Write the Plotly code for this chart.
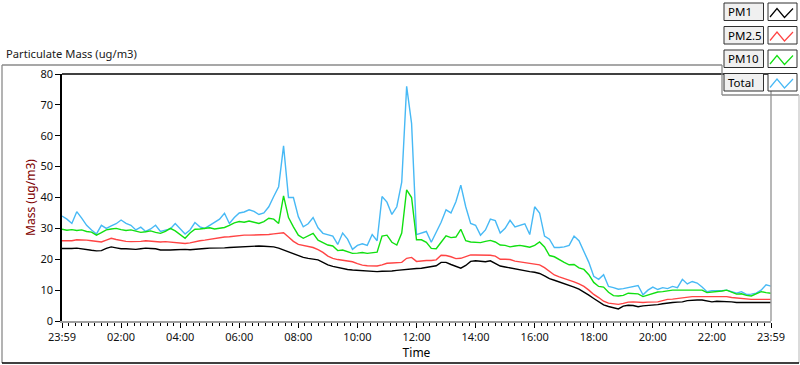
import numpy as np
import plotly.graph_objects as go

# ---- data: 10-minute samples from 23:59 to 23:59 (hours since start) ----
hours = np.arange(145) / 6.0

pm1 = [
    23.5, 23.4, 23.5, 23.6, 23.3, 23.0, 22.9, 22.7, 22.8, 23.5, 24.0, 23.7,
    23.4, 23.4, 23.2, 23.2, 23.4, 23.6, 23.5, 23.4, 23.0, 22.9, 23.0, 23.1,
    23.2, 23.2, 23.1, 23.3, 23.4, 23.5, 23.6, 23.6, 23.5, 23.7, 23.8, 23.9,
    24.0, 24.2, 24.2, 24.3, 24.3, 24.2, 24.1, 24.0, 23.6, 23.0, 22.3, 21.6,
    21.0, 20.6, 20.3, 20.1, 19.8, 19.0, 18.2, 17.7, 17.3, 17.0, 16.7, 16.5,
    16.4, 16.2, 16.0, 16.0, 16.0, 16.1, 16.1, 16.2, 16.4, 16.6, 16.7, 16.8,
    17.0, 17.1, 17.3, 17.5, 17.9, 19.0, 19.0, 18.3, 17.6, 17.1, 18.0, 19.3,
    19.5, 19.3, 19.2, 19.5, 18.6, 17.8, 17.5, 17.2, 16.8, 16.4, 16.2, 16.0,
    15.8, 15.4, 14.6, 13.7, 13.2, 12.7, 12.1, 11.6, 11.0, 10.3, 9.4, 8.4,
    7.3, 6.2, 5.2, 4.7, 4.3, 3.9, 4.8, 5.1, 5.0, 4.6, 4.9, 5.0,
    5.1, 5.3, 5.6, 5.9, 6.0, 6.1, 6.2, 6.6, 6.8, 6.8, 6.8, 6.4,
    6.2, 6.4, 6.4, 6.3, 6.2, 6.0, 6.0, 6.0, 6.0, 6.0, 6.0, 6.0,
    6.0,
]

pm25 = [
    26.0, 25.9, 26.0, 26.3, 26.3, 26.2, 26.0, 25.7, 25.6, 26.2, 26.8, 26.4,
    26.0, 25.8, 25.7, 25.7, 25.8, 26.0, 25.8, 25.7, 25.6, 25.7, 25.6, 25.4,
    25.2, 25.1, 25.3, 25.7, 26.0, 26.2, 26.5, 26.8, 27.0, 27.2, 27.3, 27.5,
    27.6, 27.8, 27.8, 27.8, 27.9, 27.9, 28.0, 28.2, 28.4, 28.6, 27.2, 25.8,
    24.8, 24.4, 24.2, 23.8, 23.1, 22.2, 21.0, 20.3, 19.9, 19.7, 19.5, 19.2,
    18.6, 18.1, 17.9, 17.8, 17.8, 18.2, 18.7, 18.8, 18.9, 19.0, 20.3, 20.6,
    19.3, 19.5, 19.6, 19.6, 19.8, 21.3, 21.2, 20.8, 20.2, 20.3, 20.8, 21.4,
    21.4, 21.4, 21.4, 21.3, 21.0, 20.0, 20.0, 19.9, 19.4, 19.2, 19.0, 18.7,
    18.5, 18.2, 17.3, 16.0, 14.9, 14.3, 13.8, 13.3, 12.7, 12.0, 11.2, 10.0,
    8.6, 7.6, 6.4, 5.8, 5.6, 5.4, 5.7, 6.1, 6.2, 6.0, 6.0, 6.1,
    6.1, 6.2, 6.6, 7.0, 7.1, 7.3, 7.4, 7.8, 7.9, 7.9, 7.9, 7.8,
    7.7, 7.8, 7.8, 7.9, 7.6, 7.4, 7.3, 7.1, 7.0, 7.0, 7.0, 7.0,
    7.0,
]

pm10 = [
    29.7, 29.4, 29.6, 29.3, 29.5, 29.0, 28.8, 27.8, 28.6, 29.5, 29.8, 30.0,
    29.6, 29.3, 29.5, 29.0, 28.7, 28.9, 29.2, 28.7, 28.4, 29.0, 30.0, 29.2,
    28.0, 26.8, 28.5, 29.7, 29.8, 30.0, 30.2, 29.8, 30.0, 30.3, 31.0, 31.8,
    32.2, 32.0, 32.4, 32.0, 31.6, 32.2, 33.3, 33.0, 31.6, 40.5, 33.5, 30.5,
    27.8, 26.8, 27.5, 28.4, 26.2, 25.5, 24.6, 24.3, 22.8, 23.0, 22.5, 21.9,
    22.0, 22.2, 21.9, 22.1, 22.3, 27.5, 27.8, 25.5, 24.6, 28.5, 42.5, 40.0,
    26.3, 26.3, 25.5, 23.5, 23.4, 25.5, 27.6, 27.0, 27.2, 29.7, 26.0, 25.6,
    25.6, 25.4, 25.8, 26.1, 25.6, 24.6, 24.5, 24.0, 24.3, 24.5, 24.2, 23.9,
    24.5, 25.6, 24.0, 21.2, 20.8, 19.8, 19.0, 18.2, 18.3, 17.2, 16.7, 15.0,
    12.5, 11.2, 11.0, 9.3, 8.2, 8.1, 8.3, 9.0, 8.9, 8.8, 7.9, 8.4,
    9.0, 9.4, 9.5, 9.8, 10.0, 10.0, 10.0, 10.1, 10.1, 10.0, 10.0, 9.2,
    9.3, 9.5, 9.7, 10.0, 9.4, 8.7, 8.8, 8.3, 8.1, 8.7, 9.5, 9.2,
    9.0,
]

total = [
    34.0, 33.0, 31.6, 35.4, 33.3, 31.0, 29.5, 28.2, 31.0, 30.0, 30.8, 31.5,
    32.7, 31.6, 31.0, 29.5, 30.4, 29.0, 29.8, 31.0, 29.0, 29.3, 29.8, 31.6,
    30.0, 28.2, 29.5, 31.9, 30.5, 30.0, 31.0, 31.9, 33.0, 34.9, 31.6, 33.5,
    35.0, 35.3, 36.0, 35.5, 34.5, 35.0, 37.0, 40.3, 43.5, 56.7, 40.0, 40.0,
    33.8, 30.5, 31.5, 33.5, 30.2, 28.4, 28.0, 27.5, 24.8, 28.5, 26.5, 23.2,
    24.5, 25.0, 24.5, 28.0, 26.0, 40.3, 38.5, 34.5, 37.0, 45.0, 76.0, 64.0,
    28.0, 28.5, 29.0, 25.5, 28.5, 32.0, 36.0, 35.0, 38.6, 44.0, 37.0, 31.6,
    31.0, 27.8, 29.5, 33.0, 32.5, 28.5, 30.0, 32.6, 30.5, 31.0, 31.5, 28.0,
    37.0, 35.0, 27.5, 26.5, 23.8, 23.8, 24.0, 24.5, 27.5, 26.0, 22.5, 19.0,
    14.5, 13.5, 15.0, 11.2, 10.8, 10.3, 10.5, 10.8, 11.0, 11.5, 8.5, 10.0,
    11.0, 10.2, 10.8, 10.5, 11.2, 10.8, 13.5, 12.0, 12.8, 12.3, 11.0, 9.5,
    9.8, 9.7, 9.8, 10.0, 9.6, 9.0, 9.5, 8.6, 8.7, 9.0, 10.0, 11.7,
    11.3,
]

series_names = ["PM1", "PM2.5", "PM10", "Total"]
series_colors = ["#000000", "#ff4444", "#11e011", "#47b9f5"]
series_values = [pm1, pm25, pm10, total]

tick_hours = [0, 2, 4, 6, 8, 10, 12, 14, 16, 18, 20, 22, 24]
tick_labels = ["23:59", "02:00", "04:00", "06:00", "08:00", "10:00", "12:00",
               "14:00", "16:00", "18:00", "20:00", "22:00", "23:59"]

FONT = "Noto Sans"

# ---- figure geometry (pixels) ----
W, H = 800, 365
PL, PR, PT, PB = 62, 771, 74, 321


def X(px):
    return (px - PL) / (PR - PL)


def Y(py):
    return (PB - py) / (PB - PT)


fig = go.Figure()
for name, vals, col in reversed(list(zip(series_names, series_values, series_colors))):
    fig.add_trace(go.Scatter(x=hours, y=vals, mode="lines", name=name,
                             line=dict(color=col, width=1.4), showlegend=False,
                             hoverinfo="skip"))

shapes = []
# plot frame: top black, right grey
shapes.append(dict(type="line", xref="paper", yref="paper", x0=0, x1=1, y0=1, y1=1,
                   line=dict(color="black", width=1.5)))
shapes.append(dict(type="line", xref="paper", yref="paper", x0=1, x1=1, y0=0, y1=1,
                   line=dict(color="#a0a0a0", width=1.5)))
# outer panel frame
frame_grey = "#8a8a8a"
for (x0, y0, x1, y1, c) in [
    (2, 65, 722, 65, frame_grey),
    (722, 65, 722, 95, frame_grey),
    (722, 95, 799, 95, frame_grey),
    (799, 95, 799, 363, "#c8c8c8"),
    (2, 65, 2, 363, frame_grey),
    (2, 363, 799, 363, "black"),
]:
    shapes.append(dict(type="line", xref="paper", yref="paper",
                       x0=X(x0), x1=X(x1), y0=Y(y0), y1=Y(y1),
                       line=dict(color=c, width=1.3)))

annotations = []
# custom legend
row_tops = [3, 26.5, 50, 73.5]
row_h = 17.5
for name, col, t in zip(series_names, series_colors, row_tops):
    shapes.append(dict(type="rect", xref="paper", yref="paper",
                       x0=X(724), x1=X(763.5), y0=Y(t + row_h), y1=Y(t),
                       fillcolor="#f0f0f0", line=dict(color="#303030", width=1)))
    shapes.append(dict(type="rect", xref="paper", yref="paper",
                       x0=X(768), x1=X(797), y0=Y(t + row_h), y1=Y(t),
                       fillcolor="white", line=dict(color="#303030", width=1)))
    pts = [(770, t + 14), (777, t + 5.5), (784.5, t + 14.5), (793, t + 5.5)]
    path = "M " + " L ".join(f"{X(a):.5f},{Y(b):.5f}" for a, b in pts)
    shapes.append(dict(type="path", xref="paper", yref="paper", path=path,
                       line=dict(color=col, width=1.2)))
    annotations.append(dict(xref="paper", yref="paper", x=X(725.5), y=Y(t + row_h / 2),
                            xanchor="left", yanchor="middle", showarrow=False,
                            text=name, font=dict(family=FONT, size=11.5, color="black")))

annotations.append(dict(xref="paper", yref="paper", x=X(4), y=Y(54),
                        xanchor="left", yanchor="middle", showarrow=False,
                        text="Particulate Mass (ug/m3)",
                        font=dict(family=FONT, size=11.2, color="#202020")))

fig.update_layout(
    width=W, height=H,
    margin=dict(l=PL, r=W - PR, t=PT, b=H - PB, pad=0),
    paper_bgcolor="white", plot_bgcolor="white",
    font=dict(family=FONT, size=11, color="#111111"),
    shapes=shapes, annotations=annotations,
    xaxis=dict(range=[0, 24], tickmode="array", tickvals=tick_hours, ticktext=tick_labels,
               ticks="outside", ticklen=5, tickwidth=1, tickcolor="black",
               showline=True, linecolor="#a0a0a0", linewidth=1.5,
               showgrid=False, zeroline=False, automargin=False,
               tickfont=dict(family=FONT, size=11, color="#111111"),
               minor=dict(tickmode="linear", tick0=0, dtick=2 / 9, ticks="outside",
                          ticklen=3, tickcolor="black", tickwidth=1, showgrid=False),
               title=dict(text="Time", standoff=4,
                          font=dict(family=FONT, size=12, color="black"))),
    yaxis=dict(range=[0, 80], tickmode="linear", tick0=0, dtick=10,
               ticks="outside", ticklen=5, tickwidth=1, tickcolor="black",
               showline=True, linecolor="black", linewidth=1.5,
               showgrid=False, zeroline=False, automargin=False,
               tickfont=dict(family=FONT, size=11, color="#111111"),
               title=dict(text="Mass (ug/m3)", standoff=2,
                          font=dict(family=FONT, size=12, color="#800000"))),
)

fig.write_html("out.html",
               config={"displayModeBar": False},
               post_script="document.body.style.margin='0';"
                           "document.body.style.overflow='hidden';")
